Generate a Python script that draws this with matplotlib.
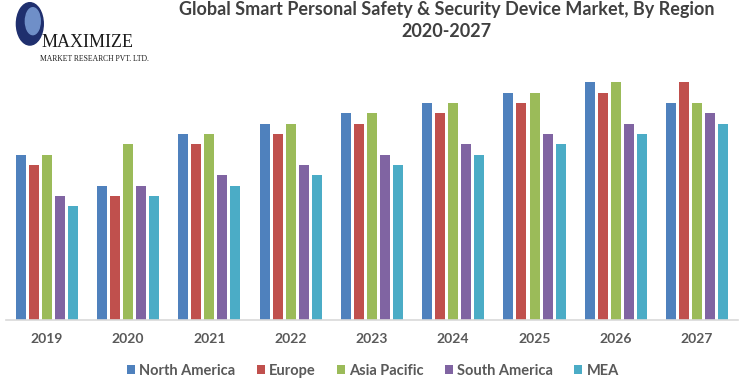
import numpy as np
import matplotlib.pyplot as plt
from matplotlib.patches import Ellipse

years = ['2019', '2020', '2021', '2022', '2023', '2024', '2025', '2026', '2027']
regions = ['North America', 'Europe', 'Asia Pacific', 'South America', 'MEA']
north_america = [16, 13, 18, 19, 20, 21, 22, 23, 21]
europe = [15, 12, 17, 18, 19, 20, 21, 22, 23]
asia_pacific = [16, 17, 18, 19, 20, 21, 22, 23, 21]
south_america = [12, 13, 14, 15, 16, 17, 18, 19, 20]
mea = [11, 12, 13, 14, 15, 16, 17, 18, 19]
colors = ['#4F81BD', '#C0504D', '#9BBB59', '#8064A2', '#4BACC6']

series = [north_america, europe, asia_pacific, south_america, mea]

fig = plt.figure(figsize=(7.46, 3.85), dpi=100)
ax = fig.add_axes([0.008, 0.1688, 0.981, 0.644])

x = np.arange(len(years))
pitch = 0.16
width = 0.123
for i, (name, vals) in enumerate(zip(regions, series)):
    ax.bar(x + (i - 2) * pitch, vals, width, color=colors[i], label=name)

ax.set_xlim(-0.5, len(years) - 0.5)
ax.set_ylim(0, 24)
ax.set_yticks([])
for s in ['top', 'right', 'left']:
    ax.spines[s].set_visible(False)
ax.spines['bottom'].set_color('#D9D9D9')
ax.spines['bottom'].set_linewidth(1.2)
ax.set_xticks(x)
ax.set_xticklabels(years, fontsize=10, fontweight='bold', color='#595959', family='Lato')
ax.tick_params(axis='x', length=0, pad=9)

fig.text(0.599, 0.975, 'Global Smart Personal Safety & Security Device Market, By Region',
         ha='center', va='center', fontsize=13, fontweight='bold', color='#404040', family='Lato')
fig.text(0.599, 0.918, '2020-2027', ha='center', va='center', fontsize=13,
         fontweight='bold', color='#404040', family='Lato')

# logo
fig.patches.append(Ellipse((0.040, 0.938), 0.036, 0.11, transform=fig.transFigure,
                           color='#1F2F6E', zorder=1))
fig.patches.append(Ellipse((0.044, 0.945), 0.02, 0.07, transform=fig.transFigure,
                           color='#6F8FC8', zorder=2))
fig.text(0.056, 0.89, 'MAXIMIZE', fontsize=13, family='Liberation Serif', color='#1A1A1A',
         ha='left', va='center', zorder=3)
fig.text(0.054, 0.848, 'MARKET RESEARCH PVT. LTD.', fontsize=5.5, family='Liberation Serif',
         color='#1A1A1A', ha='left', va='center', zorder=3)

leg = fig.legend(loc='center', bbox_to_anchor=(0.5, 0.037), ncol=5, frameon=False,
                 handlelength=0.55, handleheight=0.55, handletextpad=0.3, columnspacing=1.45,
                 prop={'family': 'Lato', 'weight': 'bold', 'size': 10.5})
for t in leg.get_texts():
    t.set_color('#595959')

fig.savefig('out.png', dpi=100)
